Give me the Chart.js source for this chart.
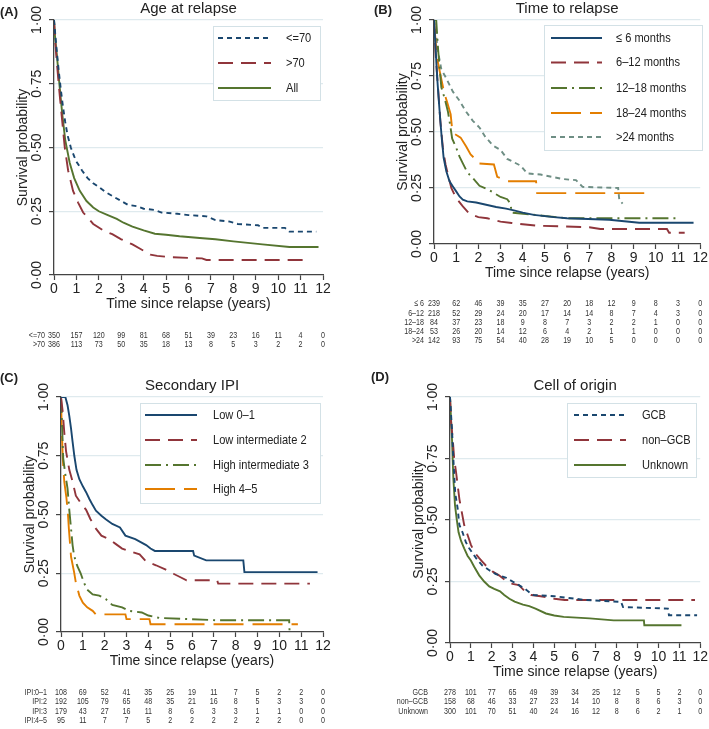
<!DOCTYPE html>
<html><head><meta charset="utf-8">
<script src="https://cdn.jsdelivr.net/npm/chart.js@4.4.0/dist/chart.umd.min.js"></script>
<style>
html,body{margin:0;padding:0;background:#fff;}
body{width:709px;height:729px;position:relative;overflow:hidden;}
.p{position:absolute;}
canvas{display:block;}
</style></head><body>
<div class="p" style="left:0;top:0;"><canvas id="cA" width="354" height="360"></canvas></div>
<div class="p" style="left:354px;top:0;"><canvas id="cB" width="355" height="360"></canvas></div>
<div class="p" style="left:0;top:360px;"><canvas id="cC" width="354" height="369"></canvas></div>
<div class="p" style="left:354px;top:360px;"><canvas id="cD" width="355" height="369"></canvas></div>
<script>
// ---------- DATA ----------
const yTickValues = [0, 0.25, 0.5, 0.75, 1];
const yTickLabels = ['0·00', '0·25', '0·50', '0·75', '1·00'];
const xTitle = 'Time since relapse (years)';
const yTitle = 'Survival probability';

// (A) Age at relapse: [years, survival]
const ageLe70 = [[0,1],[0.05,0.95],[0.1,0.9],[0.2,0.81],[0.3,0.73],[0.4,0.66],[0.5,0.6],[0.6,0.55],[0.75,0.5],[0.9,0.465],[1.0,0.445],[1.25,0.41],[1.5,0.38],[1.75,0.36],[2.0,0.345],[2.3,0.325],[2.6,0.31],[3.0,0.29],[3.3,0.275],[3.7,0.27],[4.0,0.26],[4.5,0.255],[4.8,0.245],[5.5,0.24],[6.0,0.235],[6.8,0.23],[7.2,0.215],[7.8,0.21],[8.2,0.2],[9.1,0.195],[9.3,0.185],[10.3,0.185],[10.5,0.17],[11.7,0.17]];
const ageGt70 = [[0,1],[0.05,0.92],[0.13,0.83],[0.25,0.71],[0.37,0.6],[0.48,0.5],[0.63,0.41],[0.85,0.33],[1.07,0.285],[1.3,0.245],[1.75,0.2],[2.2,0.175],[2.6,0.16],[3.0,0.14],[3.5,0.12],[3.9,0.1],[4.3,0.08],[4.6,0.075],[5.2,0.07],[6.6,0.065],[6.8,0.059],[11.1,0.059]];
const ageAll = [[0,1],[0.05,0.93],[0.13,0.86],[0.25,0.74],[0.37,0.63],[0.5,0.53],[0.7,0.44],[0.9,0.38],[1.15,0.33],[1.45,0.29],[1.75,0.265],[2.0,0.25],[2.4,0.235],[2.8,0.22],[3.1,0.205],[3.5,0.19],[4.0,0.175],[4.5,0.162],[5.0,0.158],[5.6,0.152],[6.5,0.145],[7.2,0.14],[8.0,0.132],[9.3,0.12],[10.5,0.11],[11.8,0.11]];
const riskLabelsA = ['<=70', '>70'];
const riskLe70 = [350,157,120,99,81,68,51,39,23,16,11,4,0];
const riskGt70 = [386,113,73,50,35,18,13,8,5,3,2,2,0];

// (B) Time to relapse
const ttr6 = [[0,1],[0.075,0.87],[0.135,0.755],[0.21,0.65],[0.285,0.55],[0.36,0.46],[0.435,0.385],[0.555,0.325],[0.7,0.28],[0.85,0.257],[1.0,0.235],[1.15,0.212],[1.3,0.198],[1.5,0.19],[1.9,0.185],[2.35,0.175],[2.8,0.165],[3.25,0.158],[3.6,0.15],[4.0,0.14],[4.5,0.13],[5.4,0.12],[6.0,0.115],[7.9,0.108],[9.25,0.095],[11.7,0.095]];
const ttr12 = [[0,1],[0.075,0.845],[0.18,0.7],[0.285,0.55],[0.4,0.43],[0.52,0.355],[0.63,0.31],[0.78,0.25],[1.0,0.205],[1.3,0.168],[1.6,0.135],[2.0,0.12],[2.4,0.115],[3.0,0.1],[3.5,0.094],[4.0,0.088],[4.6,0.082],[7.0,0.075],[7.5,0.067],[10.5,0.067],[10.6,0.05],[11.3,0.05]];
const ttr18 = [[0,1],[0.1,1.0],[0.18,0.875],[0.25,0.79],[0.33,0.7],[0.48,0.65],[0.63,0.59],[0.73,0.53],[0.82,0.47],[1.0,0.43],[1.15,0.39],[1.3,0.36],[1.5,0.32],[1.7,0.3],[2.05,0.26],[2.5,0.24],[3.0,0.21],[3.3,0.2],[3.45,0.18],[3.5,0.14],[4.6,0.13],[5.0,0.125],[6.0,0.115],[11.0,0.115]];
const ttr24 = [[0,1],[0.075,0.9],[0.18,0.81],[0.3,0.75],[0.45,0.68],[0.6,0.63],[0.75,0.58],[0.82,0.51],[0.95,0.49],[1.2,0.475],[1.45,0.435],[1.65,0.4],[1.9,0.375],[2.0,0.36],[2.7,0.355],[2.85,0.3],[3.3,0.28],[4.6,0.28],[4.65,0.227],[9.5,0.227]];
const ttrGt24 = [[0,1],[0.1,0.93],[0.18,0.86],[0.33,0.78],[0.55,0.74],[0.85,0.68],[1.15,0.64],[1.45,0.59],[1.75,0.55],[2.05,0.52],[2.3,0.48],[2.65,0.44],[3.0,0.42],[3.3,0.38],[3.9,0.35],[4.2,0.315],[4.8,0.31],[5.8,0.29],[6.4,0.285],[6.7,0.255],[8.3,0.25],[8.35,0.2],[8.5,0.18]];
const riskLabelsB = ['≤ 6', '6–12', '12–18', '18–24', '>24'];
const riskTtr6 = [239,62,46,39,35,27,20,18,12,9,8,3,0];
const riskTtr12 = [218,52,29,24,20,17,14,14,8,7,4,3,0];
const riskTtr18 = [84,37,23,18,9,8,7,3,2,2,1,0,0];
const riskTtr24 = [53,26,20,14,12,6,4,2,1,1,0,0,0];
const riskTtrGt24 = [142,93,75,54,40,28,19,10,5,0,0,0,0];

// (C) Secondary IPI
const ipiLow = [[0,1],[0.2,1.0],[0.3,0.965],[0.38,0.92],[0.46,0.865],[0.53,0.81],[0.61,0.75],[0.71,0.69],[0.84,0.65],[1.0,0.62],[1.15,0.595],[1.3,0.566],[1.45,0.54],[1.6,0.516],[1.85,0.495],[2.05,0.48],[2.35,0.46],[2.7,0.445],[2.95,0.41],[3.4,0.395],[3.9,0.37],[4.1,0.355],[4.3,0.345],[6.05,0.345],[6.1,0.325],[6.65,0.305],[8.35,0.305],[8.4,0.255],[11.75,0.255]];
const ipiLowInt = [[0,1],[0.05,0.96],[0.08,0.935],[0.15,0.85],[0.23,0.77],[0.38,0.69],[0.53,0.64],[0.68,0.58],[0.9,0.55],[1.15,0.52],[1.35,0.48],[1.6,0.44],[1.85,0.41],[2.2,0.395],[2.5,0.375],[2.8,0.355],[3.1,0.345],[3.6,0.33],[3.9,0.3],[4.35,0.284],[4.8,0.265],[5.15,0.248],[5.45,0.234],[5.75,0.22],[7.15,0.22],[7.2,0.206],[11.4,0.206]];
const ipiHighInt = [[0,1],[0.05,0.88],[0.1,0.74],[0.2,0.67],[0.3,0.61],[0.38,0.52],[0.46,0.44],[0.53,0.37],[0.6,0.325],[0.75,0.28],[0.9,0.25],[1.05,0.21],[1.2,0.18],[1.45,0.16],[1.75,0.155],[2.05,0.14],[2.35,0.115],[2.8,0.105],[3.1,0.09],[3.7,0.083],[4.0,0.07],[4.5,0.06],[7.1,0.05],[10.45,0.05],[10.47,0.0]];
const ipiHigh = [[0,1],[0.03,0.88],[0.08,0.74],[0.15,0.64],[0.25,0.57],[0.32,0.5],[0.36,0.44],[0.41,0.38],[0.46,0.32],[0.6,0.255],[0.68,0.21],[0.84,0.155],[1.0,0.125],[1.2,0.105],[1.45,0.09],[1.6,0.075],[2.95,0.075],[3.0,0.055],[4.05,0.055],[4.1,0.033],[10.85,0.033]];
const riskLabelsC = ['IPI:0–1', 'IPI:2', 'IPI:3', 'IPI:4–5'];
const riskIpi01 = [108,69,52,41,35,25,19,11,7,5,2,2,0];
const riskIpi2 = [192,105,79,65,48,35,21,16,8,5,3,3,0];
const riskIpi3 = [179,43,27,16,11,8,6,3,3,1,1,0,0];
const riskIpi45 = [95,11,7,7,5,2,2,2,2,2,2,0,0];

// (D) Cell of origin
const cooGcb = [[0,1],[0.1,0.86],[0.16,0.75],[0.25,0.61],[0.37,0.545],[0.45,0.48],[0.6,0.45],[0.76,0.41],[0.92,0.385],[1.25,0.345],[1.55,0.315],[1.9,0.295],[2.2,0.28],[2.7,0.265],[3.0,0.25],[3.3,0.235],[3.6,0.22],[3.9,0.2],[4.0,0.195],[5.0,0.19],[6.5,0.175],[8.2,0.167],[8.3,0.146],[10.45,0.14],[10.5,0.113],[11.85,0.113]];
const cooNonGcb = [[0,1],[0.05,0.9],[0.13,0.83],[0.2,0.75],[0.29,0.695],[0.37,0.64],[0.45,0.585],[0.57,0.53],[0.68,0.48],[0.84,0.44],[1.0,0.4],[1.16,0.37],[1.4,0.345],[1.56,0.33],[1.72,0.315],[2.05,0.29],[2.35,0.275],[2.65,0.255],[3.0,0.24],[3.3,0.235],[3.6,0.21],[3.9,0.195],[4.35,0.19],[5.0,0.18],[5.5,0.175],[11.75,0.175]];
const cooUnknown = [[0,1],[0.1,0.82],[0.16,0.67],[0.24,0.56],[0.32,0.505],[0.41,0.45],[0.53,0.415],[0.68,0.385],[0.84,0.355],[1.0,0.335],[1.16,0.31],[1.4,0.275],[1.64,0.25],[1.88,0.23],[2.12,0.22],[2.4,0.21],[2.6,0.195],[2.85,0.18],[3.1,0.168],[3.5,0.156],[3.8,0.15],[4.1,0.14],[4.6,0.12],[5.0,0.112],[5.45,0.106],[6.7,0.1],[7.85,0.092],[9.3,0.092],[9.32,0.072],[11.1,0.072]];
const riskLabelsD = ['GCB', 'non–GCB', 'Unknown'];
const riskGcb = [278,101,77,65,49,39,34,25,12,5,5,2,0];
const riskNonGcb = [158,68,46,33,27,23,14,10,8,8,6,3,0];
const riskUnknown = [300,101,70,51,40,24,16,12,8,6,2,1,0];

// ---------- STYLE ----------
const FONT = '"Liberation Sans", Arial, Helvetica, sans-serif';
const NAVY = '#1a476f', MAROON = '#90353b', FOREST = '#55752f', ORANGE = '#e37e00', TEAL = '#6e8e84';
const SHORT = [5, 4], LONG = [15, 8], DASHDOT = [16, 5, 2, 5], XLONG = [30, 9], SOLID = [];

function squeezedText(ctx, text, x, y, align, sx) {
  ctx.save();
  ctx.translate(x, y);
  ctx.scale(sx, 1);
  ctx.textAlign = align;
  ctx.fillText(text, 0, 0);
  ctx.restore();
}

const panelPlugin = {
  id: 'panel',
  afterDraw(chart) {
    const cfg = chart.options.plugins.panel;
    const ctx = chart.ctx, a = chart.chartArea;
    const xs = chart.scales.x, ys = chart.scales.y;
    ctx.save();
    ctx.fillStyle = '#222';
    ctx.textAlign = 'center'; ctx.textBaseline = 'middle';
    ctx.font = '14px ' + FONT;
    yTickValues.forEach((v, i) => {
      ctx.save();
      ctx.translate(a.left - 17, ys.getPixelForValue(v));
      ctx.rotate(-Math.PI / 2);
      ctx.fillText(yTickLabels[i], 0, 0);
      ctx.restore();
    });
    ctx.save();
    ctx.translate(a.left - 31, (a.top + a.bottom) / 2);
    ctx.rotate(-Math.PI / 2);
    ctx.fillText(yTitle, 0, 0);
    ctx.restore();
    ctx.fillText(xTitle, (a.left + a.right) / 2, a.bottom + 29);
    ctx.font = '15px ' + FONT;
    ctx.fillText(cfg.title, (a.left + a.right) / 2, a.top - 11.5);
    ctx.font = 'bold 13px ' + FONT;
    ctx.textAlign = 'left';
    ctx.fillText(cfg.tag, cfg.tagX, cfg.tagY);
    // legend
    const lg = cfg.legend;
    ctx.fillStyle = '#fff';
    ctx.fillRect(lg.x, lg.y, lg.w, lg.h);
    ctx.strokeStyle = '#d3e1e6'; ctx.lineWidth = 1;
    ctx.strokeRect(lg.x + 0.5, lg.y + 0.5, lg.w, lg.h);
    ctx.font = '13.5px ' + FONT;
    ctx.fillStyle = '#222';
    chart.data.datasets.forEach((ds, i) => {
      const y = lg.rows[i];
      ctx.save();
      ctx.strokeStyle = ds.borderColor; ctx.lineWidth = ds.borderWidth;
      ctx.setLineDash(ds.borderDash || []);
      ctx.beginPath(); ctx.moveTo(lg.sx0, y); ctx.lineTo(lg.sx1, y); ctx.stroke();
      ctx.restore();
      squeezedText(ctx, ds.label, lg.tx, y, 'left', 0.82);
    });
    // risk table
    const tb = cfg.table;
    ctx.font = '9.5px ' + FONT;
    ctx.fillStyle = '#333';
    tb.rows.forEach((vals, r) => {
      const y = tb.y[r];
      squeezedText(ctx, tb.labels[r], tb.labelX, y, 'right', 0.75);
      vals.forEach((n, i) => squeezedText(ctx, String(n), xs.getPixelForValue(i), y, 'center', 0.75));
    });
    ctx.restore();
  }
};

function makeChart(id, W, H, area, series, panel) {
  return new Chart(document.getElementById(id), {
    type: 'line',
    data: {
      datasets: series.map(s => ({
        label: s.label,
        data: s.data.map(([x, y]) => ({x, y})),
        borderColor: s.color,
        borderDash: s.dash,
        borderWidth: 1.9,
        pointRadius: 0,
        fill: false,
        tension: 0
      }))
    },
    options: {
      responsive: false,
      animation: false,
      events: [],
      layout: {padding: {left: 0, top: area.top, right: W - area.right, bottom: 0}},
      plugins: {legend: {display: false}, tooltip: {enabled: false}, panel},
      scales: {
        x: {
          type: 'linear', min: 0, max: 12,
          afterFit(s) { s.height = H - area.bottom; },
          ticks: {stepSize: 1, autoSkip: false, maxRotation: 0, padding: 1, color: '#222', font: {family: FONT, size: 14}},
          grid: {drawOnChartArea: false, drawTicks: true, tickLength: 5, tickColor: '#444', tickWidth: 1.2},
          border: {color: '#444', width: 1.3}
        },
        y: {
          type: 'linear', min: 0, max: 1,
          afterFit(s) { s.width = area.left; },
          ticks: {stepSize: 0.25, display: false},
          grid: {color: c => (c.tick && c.tick.value === 0) ? 'rgba(0,0,0,0)' : '#dfeaee', lineWidth: 1.2, drawTicks: true, tickLength: 5, tickColor: '#444', tickWidth: 1.2},
          border: {color: '#444', width: 1.3}
        }
      }
    },
    plugins: [panelPlugin]
  });
}

makeChart('cA', 354, 360, {left: 54, right: 323, top: 20, bottom: 275}, [
  {label: '<=70', data: ageLe70, color: NAVY, dash: SHORT},
  {label: '>70', data: ageGt70, color: MAROON, dash: LONG},
  {label: 'All', data: ageAll, color: FOREST, dash: SOLID}
], {
  title: 'Age at relapse', tag: '(A)', tagX: 0, tagY: 12,
  legend: {x: 213, y: 26, w: 107, h: 74, rows: [38, 63, 88], sx0: 218, sx1: 271, tx: 286},
  table: {labels: riskLabelsA, rows: [riskLe70, riskGt70], y: [335, 344], labelX: 45}
});

makeChart('cB', 355, 360, {left: 80, right: 348, top: 20, bottom: 244}, [
  {label: '≤ 6 months', data: ttr6, color: NAVY, dash: SOLID},
  {label: '6–12 months', data: ttr12, color: MAROON, dash: LONG},
  {label: '12–18 months', data: ttr18, color: FOREST, dash: DASHDOT},
  {label: '18–24 months', data: ttr24, color: ORANGE, dash: XLONG},
  {label: '>24 months', data: ttrGt24, color: TEAL, dash: SHORT}
], {
  title: 'Time to relapse', tag: '(B)', tagX: 20, tagY: 10,
  legend: {x: 190, y: 25, w: 158, h: 125, rows: [38, 62.5, 88, 113, 137], sx0: 197, sx1: 248, tx: 262},
  table: {labels: riskLabelsB, rows: [riskTtr6, riskTtr12, riskTtr18, riskTtr24, riskTtrGt24], y: [303.3, 313.3, 322.3, 331, 340], labelX: 70}
});

makeChart('cC', 354, 369, {left: 61, right: 323, top: 37, bottom: 272}, [
  {label: 'Low 0–1', data: ipiLow, color: NAVY, dash: SOLID},
  {label: 'Low intermediate 2', data: ipiLowInt, color: MAROON, dash: LONG},
  {label: 'High intermediate 3', data: ipiHighInt, color: FOREST, dash: DASHDOT},
  {label: 'High 4–5', data: ipiHigh, color: ORANGE, dash: XLONG}
], {
  title: 'Secondary IPI', tag: '(C)', tagX: 0, tagY: 18,
  legend: {x: 140, y: 43, w: 180, h: 100, rows: [55, 80, 105, 129], sx0: 145, sx1: 197, tx: 213},
  table: {labels: riskLabelsC, rows: [riskIpi01, riskIpi2, riskIpi3, riskIpi45], y: [332.3, 341.7, 351, 360], labelX: 47}
});

makeChart('cD', 355, 369, {left: 96, right: 347, top: 37, bottom: 283}, [
  {label: 'GCB', data: cooGcb, color: NAVY, dash: SHORT},
  {label: 'non–GCB', data: cooNonGcb, color: MAROON, dash: LONG},
  {label: 'Unknown', data: cooUnknown, color: FOREST, dash: SOLID}
], {
  title: 'Cell of origin', tag: '(D)', tagX: 17, tagY: 17,
  legend: {x: 213, y: 43, w: 129, h: 74, rows: [55, 80, 105], sx0: 220, sx1: 272, tx: 288},
  table: {labels: riskLabelsD, rows: [riskGcb, riskNonGcb, riskUnknown], y: [332.3, 341.7, 351], labelX: 74}
});
</script>
</body></html>
